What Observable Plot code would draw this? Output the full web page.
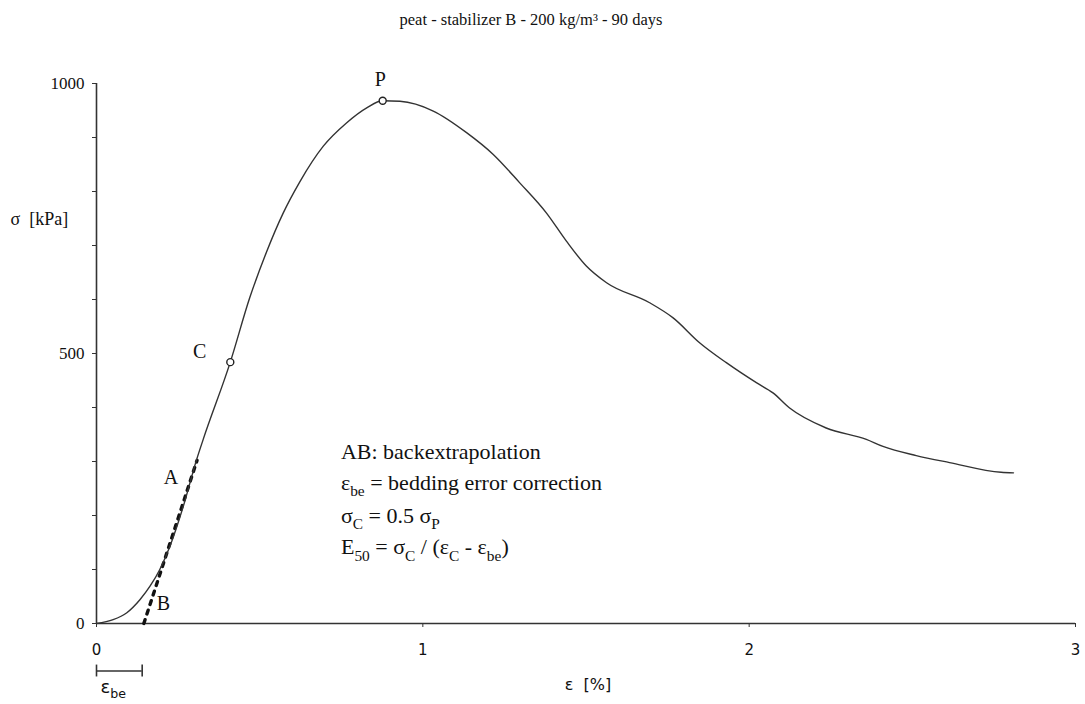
<!DOCTYPE html>
<html>
<head>
<meta charset="utf-8">
<script src="https://cdn.jsdelivr.net/npm/d3@7"></script>
<script src="https://cdn.jsdelivr.net/npm/@observablehq/plot@0.6"></script>
<style>
  body { margin: 0; background: white; }
  #title { width: 1062px; height: 24px; padding-top: 9px; text-align: center;
           font: 16.5px/22px "Liberation Serif", serif; color: #111; }
</style>
</head>
<body>
<div id="title">peat - stabilizer B - 200 kg/m³ - 90 days</div>
<div id="chart"></div>
<script>
// strain ε [%] and stress σ [kPa]
const strain = [0, 0.051, 0.093, 0.133, 0.164, 0.194, 0.225, 0.266, 0.307, 0.327, 0.41, 0.47, 0.521, 0.572, 0.623, 0.695, 0.766, 0.828, 0.877, 0.93, 1.032, 1.134, 1.215, 1.297, 1.379, 1.44, 1.501, 1.563, 1.695, 1.767, 1.848, 1.93, 2.022, 2.073, 2.124, 2.236, 2.359, 2.41, 2.512, 2.614, 2.772, 2.81];
const stress = [0, 7, 20, 44, 69, 100, 143, 217, 304, 341, 484, 604, 688, 760, 818, 884, 927, 955, 968, 967, 949, 909, 869, 816, 760, 708, 662, 631, 594, 566, 520, 483, 446, 427, 399, 362, 341, 328, 311, 298, 280, 279];

// back-extrapolation line A-B
const abStrain = [0.145, 0.308];
const abStress = [0, 302];

// special points
const pointNames = ["C", "P"];
const pointStrain = [0.41, 0.877];
const pointStress = [484, 968];

// bedding error correction
const epsBe = 0.14;

// tick values
const yTicks = d3.range(0, 1001, 100);
const yTickLabels = [0, 500, 1000];
const xTicks = [0, 1, 2, 3];

// annotation letters (data coordinates)
const letterText = ["A", "B", "C", "P"];
const letterX = [0.228, 0.205, 0.316, 0.87];
const letterY = [270, 37, 504, 1008];

// notes
const noteText = ["AB: backextrapolation", "ε_{be} = bedding error correction", "σ_{C} = 0.5 σ_{P}", "E_{50} = σ_{C} / (ε_{C} - ε_{be})"];
const noteY = [318, 261, 200, 141];
const noteX = 0.749;

const curve = strain.map((x, i) => ({x, y: stress[i]}));
const ab = abStrain.map((x, i) => ({x, y: abStress[i]}));
const pts = pointNames.map((n, i) => ({n, x: pointStrain[i], y: pointStress[i]}));
const letters = letterText.map((t, i) => ({t, x: letterX[i], y: letterY[i]}));
const notes = noteText.map((t, i) => ({t, x: noteX, y: noteY[i]}));

const BRACKET_Y = -88;
const ink = "#333";

const chart = Plot.plot({
  width: 1085,
  height: 670,
  marginTop: 50,
  marginBottom: 80,
  marginLeft: 96,
  marginRight: 10,
  x: {domain: [0, 3]},
  y: {domain: [0, 1000]},
  style: {fontFamily: "'Liberation Serif', serif", background: "white", color: "#111"},
  marks: [
    Plot.axisY(yTicks, {tickSize: 4, tickPadding: 8, fontSize: 17, stroke: ink,
      tickFormat: d => yTickLabels.includes(d) ? String(d) : "", label: null}),
    Plot.axisX(xTicks, {tickSize: 4, tickPadding: 17, fontSize: 15, stroke: ink,
      fontFamily: "'DejaVu Sans', sans-serif", tickFormat: d => String(d), label: null}),
    Plot.ruleY([0], {x1: 0, x2: 3, stroke: ink, strokeWidth: 1.6}),
    Plot.ruleX([0], {y1: 0, y2: 1000, stroke: ink, strokeWidth: 1.6}),
    Plot.line(ab, {x: "x", y: "y", stroke: "#111", strokeWidth: 3.4, strokeDasharray: "4,6"}),
    Plot.line(curve, {x: "x", y: "y", curve: "monotone-x", stroke: ink, strokeWidth: 1.4}),
    Plot.dot(pts, {x: "x", y: "y", r: 3.5, stroke: "#222", fill: "white", strokeWidth: 1.4}),
    Plot.text(letters, {x: "x", y: "y", text: "t", fontSize: 20, fill: "#111"}),
    Plot.text(notes, {x: "x", y: "y", text: "t", fontSize: 22, textAnchor: "start", fill: "#111"}),
    // axis titles
    Plot.text(["σ  [kPa]"], {frameAnchor: "top-left", dx: -86, dy: 129, textAnchor: "start", fontSize: 18, fill: "#111"}),
    Plot.text(["ε  [%]"], {frameAnchor: "bottom", dx: 2, dy: 66, fontSize: 16, fill: "#111", fontFamily: "'DejaVu Sans', sans-serif"}),
    // ε_be bracket
    Plot.ruleY([BRACKET_Y], {x1: 0, x2: epsBe, stroke: ink, strokeWidth: 1.6}),
    Plot.ruleX([0, epsBe], {y1: BRACKET_Y + 11, y2: BRACKET_Y - 11, stroke: ink, strokeWidth: 1.6}),
    Plot.text(["ε_{be}"], {frameAnchor: "bottom-left", dx: 4, dy: 69, textAnchor: "start", fontSize: 18, fill: "#111", fontFamily: "'DejaVu Sans', sans-serif"})
  ]
});

document.getElementById("chart").appendChild(chart);

// turn _{..} / ^{..} into sub/superscript tspans
(function rich(svg) {
  const NS = "http://www.w3.org/2000/svg";
  for (const t of svg.querySelectorAll("text")) {
    const s = t.textContent;
    if (!/[_^]\{/.test(s)) continue;
    const fs = parseFloat(getComputedStyle(t).fontSize) || 16;
    while (t.firstChild) t.removeChild(t.firstChild);
    const add = (str, dy, size) => {
      const ts = document.createElementNS(NS, "tspan");
      ts.textContent = str;
      if (dy) ts.setAttribute("dy", dy);
      if (size) ts.setAttribute("font-size", size);
      t.appendChild(ts);
    };
    const re = /([_^])\{([^}]*)\}/g;
    let last = 0, m, shift = 0;
    while ((m = re.exec(s))) {
      if (m.index > last) { add(s.slice(last, m.index), -shift); shift = 0; }
      const d = m[1] === "_" ? fs * 0.3 : -fs * 0.4;
      add(m[2], d - shift, fs * 0.7);
      shift = d;
      last = re.lastIndex;
    }
    if (last < s.length) add(s.slice(last), -shift);
  }
})(chart);
</script>
</body>
</html>
